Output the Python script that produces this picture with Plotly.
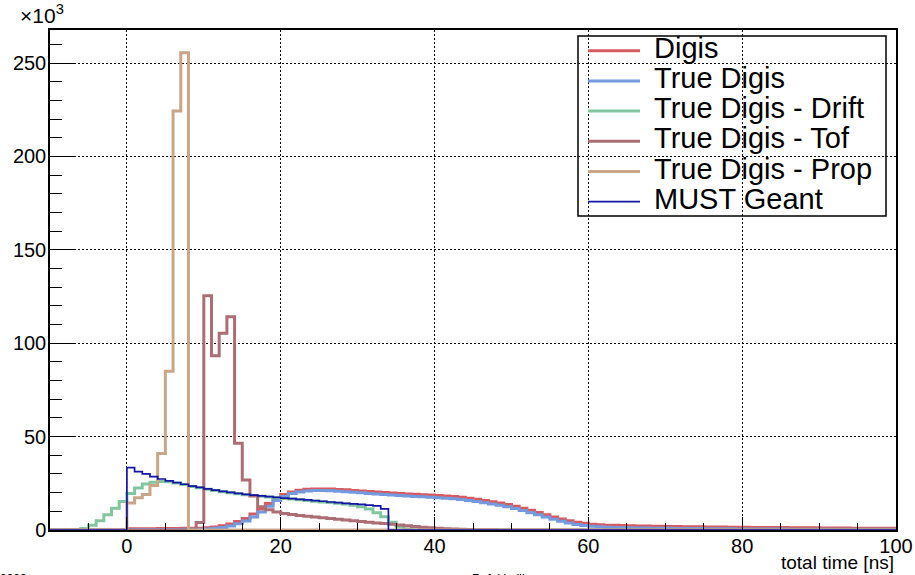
import plotly.graph_objects as go

# ---- data (counts in thousands, 1 ns bins from -10 to 100 ns) ----
bin_edges = list(range(-10, 101))

digis_start = 0
digis_vals = [0.7, 0.7, 0.7, 0.7, 0.8, 0.8, 0.8, 0.9, 0.9, 1.0,
              1.2, 1.6, 2.3, 3.2, 4.5, 6.2, 8.5, 11.2, 14.2, 17.0,
              19.0, 20.4, 21.3, 21.8, 22.0, 22.0, 21.9, 21.7, 21.5, 21.2,
              20.9, 20.6, 20.3, 20.1, 19.8, 19.6, 19.3, 19.1, 18.9, 18.7,
              18.5, 18.2, 17.9, 17.5, 17.0, 16.4, 15.8, 15.1, 14.4, 13.6,
              12.7, 11.7, 10.6, 9.4, 8.2, 7.0, 5.9, 5.0, 4.2, 3.6,
              3.1, 2.8, 2.6, 2.5, 2.4, 2.3, 2.2, 2.1, 2.0, 1.95,
              1.9, 1.85, 1.8, 1.75, 1.7, 1.65, 1.6, 1.55, 1.5, 1.5,
              1.45, 1.4, 1.4, 1.35, 1.3, 1.3, 1.25, 1.2, 1.2, 1.15,
              1.1, 1.1, 1.05, 1.05, 1.0, 1.0, 0.95, 0.95, 0.9, 0.9]

true_start = 0
true_vals = [0.3, 0.3, 0.3, 0.3, 0.3, 0.3, 0.3, 0.4, 0.4, 0.4,
             0.6, 0.9, 1.4, 2.2, 3.3, 4.8, 6.9, 9.6, 12.7, 15.8,
             18.0, 19.5, 20.4, 20.9, 21.1, 21.1, 21.0, 20.8, 20.5, 20.2,
             19.9, 19.6, 19.3, 19.0, 18.7, 18.5, 18.2, 18.0, 17.8, 17.6,
             17.3, 17.0, 16.7, 16.3, 15.8, 15.2, 14.6, 13.9, 13.2, 12.4,
             11.5, 10.4, 9.3, 8.1, 6.9, 5.8, 4.7, 3.8, 3.0, 2.4,
             2.0, 1.7, 1.5, 1.4, 1.3, 1.2, 1.1, 1.05, 1.0, 0.95,
             0.9, 0.85, 0.8, 0.8, 0.75, 0.7, 0.7, 0.65, 0.65, 0.6,
             0.6, 0.55, 0.55, 0.5, 0.5, 0.5, 0.45, 0.45, 0.45, 0.4,
             0.4, 0.4, 0.4, 0.4, 0.35, 0.35, 0.35, 0.35, 0.35, 0.35]

drift_start = -6
drift_vals = [0.8, 2.5, 5.0, 8.2, 11.6, 15.2,
              19.5, 22.5, 24.6, 25.6, 25.9, 25.8, 25.2, 24.4, 23.3, 22.6,
              21.8, 21.1, 20.5, 19.9, 19.4, 18.9, 18.5, 18.1, 17.7, 17.3,
              16.9, 16.6, 16.2, 15.8, 15.4, 15.0, 14.7, 14.3, 13.9, 13.3,
              12.5, 11.2, 9.3, 7.1, 4.2, 1.6, 0.5, 0.2, 0.1]

tof_start = 9
tof_vals = [4.0, 125.4, 93.3, 105.3, 114.2, 46.4, 26.8, 18.2, 12.5, 10.8,
            9.6, 8.9, 8.3, 7.8, 7.3, 6.9, 6.5, 6.1, 5.7, 5.3,
            4.9, 4.5, 4.1, 3.8, 3.5, 3.1, 2.7, 2.3, 1.9, 1.5,
            1.2, 0.9, 0.7, 0.5, 0.4, 0.3, 0.2, 0.15, 0.1]

prop_start = 0
prop_vals = [14.5, 17.2, 19.0, 23.8, 41.0, 85.0, 224.3, 255.5]

geant_start = 0
geant_vals = [33.4, 31.3, 30.0, 28.6, 27.3, 26.3, 25.4, 24.5, 23.5, 22.8,
              22.0, 21.3, 20.7, 20.1, 19.6, 19.1, 18.7, 18.3, 17.9, 17.5,
              17.1, 16.8, 16.4, 16.1, 15.7, 15.4, 15.0, 14.7, 14.3, 14.0,
              13.7, 13.3, 12.9, 11.3]

series_names = ["Digis", "True Digis", "True Digis - Drift", "True Digis - Tof",
                "True Digis - Prop", "MUST Geant"]
y_ticks = [0, 50, 100, 150, 200, 250]
x_ticks = [0, 20, 40, 60, 80, 100]

colors = ["#d65a5e", "#739ade", "#80c79f", "#aa6e74", "#c8a687", "#1414a6"]
widths = [3, 3, 3, 3, 3, 1.7]

nb = len(bin_edges) - 1


def full_hist(start, vals):
    arr = [0.0] * nb
    i0 = start - bin_edges[0]
    for k, v in enumerate(vals):
        arr[i0 + k] = v
    return arr + [arr[-1]]


series = [(digis_start, digis_vals), (true_start, true_vals), (drift_start, drift_vals),
          (tof_start, tof_vals), (prop_start, prop_vals), (geant_start, geant_vals)]

fig = go.Figure()
for (st, vals), name, col, w in zip(series, series_names, colors, widths):
    fig.add_trace(go.Scatter(x=bin_edges, y=full_hist(st, vals), mode="lines",
                             line=dict(color=col, width=w, shape="hv"),
                             name=name, showlegend=False, hoverinfo="skip"))

FONT = "Liberation Sans, Arial, Helvetica, sans-serif"

fig.update_layout(
    width=915, height=575, autosize=False,
    margin=dict(l=50, r=19, t=30, b=45, autoexpand=False),
    paper_bgcolor="white", plot_bgcolor="white",
    font=dict(family=FONT, color="black"),
    showlegend=False,
)
fig.update_xaxes(range=[-10, 100], tickvals=x_ticks, ticks="inside", ticklen=13,
                 tickwidth=1, tickcolor="black", automargin=False, ticklabelstandoff=-3,
                 minor=dict(dtick=5, tick0=0, ticks="inside", ticklen=7, tickcolor="black", showgrid=False),
                 showgrid=True, gridcolor="black", gridwidth=1, griddash="1.5px,2.5px",
                 showline=True, linecolor="black", linewidth=1.5, mirror=True,
                 zeroline=False, tickfont=dict(size=20, family=FONT))
fig.update_yaxes(range=[0, 267.7], tickvals=y_ticks, ticks="inside", ticklen=24,
                 tickwidth=1, tickcolor="black", automargin=False, ticklabelstandoff=-2,
                 minor=dict(dtick=10, tick0=0, ticks="inside", ticklen=12, tickcolor="black", showgrid=False),
                 showgrid=True, gridcolor="black", gridwidth=1, griddash="1.5px,2.5px",
                 showline=True, linecolor="black", linewidth=1.5, mirror=True,
                 zeroline=False, tickfont=dict(size=20, family=FONT))

# ---- legend (manual, ROOT style) ----
W, H, L, B = 846.0, 500.0, 50.0, 530.0


def px(x):
    return (x - L) / W


def py(y):
    return (B - y) / H


fig.add_shape(type="rect", xref="paper", yref="paper",
              x0=px(578), x1=px(886), y0=py(216), y1=py(36),
              line=dict(color="black", width=1.5), fillcolor="rgba(0,0,0,0)", layer="above")
row_y = [50.7, 80.9, 111.1, 141.3, 171.5, 201.7]
for name, col, w, ry in zip(series_names, colors, widths, row_y):
    fig.add_shape(type="line", xref="paper", yref="paper",
                  x0=px(588), x1=px(640), y0=py(ry), y1=py(ry),
                  line=dict(color=col, width=w), layer="above")
    fig.add_annotation(xref="paper", yref="paper", x=px(652), y=py(ry - 3),
                       xanchor="left", yanchor="middle", text=name, showarrow=False,
                       font=dict(size=29, family=FONT, color="black"))

fig.add_annotation(xref="paper", yref="paper", x=px(18), y=py(14), xanchor="left",
                   yanchor="middle", text="×10<sup>3</sup>", showarrow=False,
                   font=dict(size=21, family=FONT))
fig.add_annotation(xref="paper", yref="paper", x=1.0, y=py(562), xanchor="right",
                   yanchor="middle", text="total time [ns]", showarrow=False,
                   font=dict(size=19, family=FONT))
fig.add_annotation(xref="paper", yref="paper", x=px(-2), y=py(579), xanchor="left",
                   yanchor="middle", text="2023", showarrow=False,
                   font=dict(size=12, family=FONT))
fig.add_annotation(xref="paper", yref="paper", x=px(470), y=py(579), xanchor="left",
                   yanchor="middle", text="Rafał Lalik", showarrow=False,
                   font=dict(size=12, family=FONT))

fig.write_html("out.html", config={"displayModeBar": False, "responsive": False},
               post_script="document.body.style.margin='0';document.body.style.overflow='hidden';"
                           "document.documentElement.style.overflow='hidden';")
